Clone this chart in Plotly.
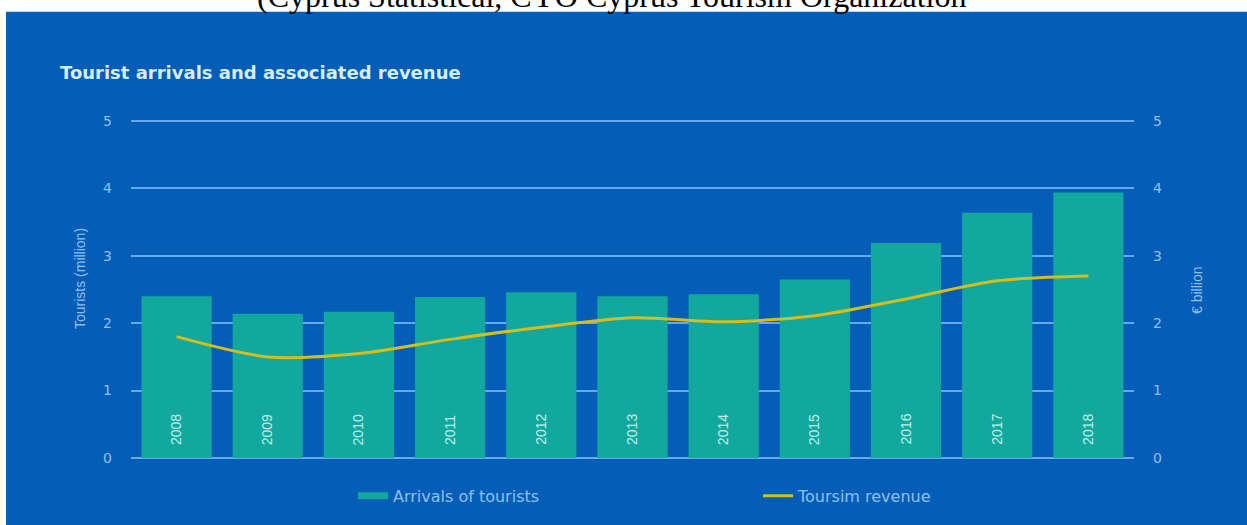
import plotly.graph_objects as go

# ---------------- data ----------------
years = ["2008", "2009", "2010", "2011", "2012", "2013", "2014", "2015", "2016", "2017", "2018"]
arrivals = [2.40, 2.14, 2.17, 2.39, 2.46, 2.40, 2.43, 2.65, 3.19, 3.64, 3.94]   # million tourists
revenue = [1.80, 1.50, 1.55, 1.76, 1.94, 2.08, 2.02, 2.11, 2.36, 2.63, 2.70]    # EUR billion
y_ticks = [0, 1, 2, 3, 4, 5]

title_text = "Tourist arrivals and associated revenue"
source_text = "(Cyprus Statistical, CYO Cyprus Tourism Organization"
bar_name = "Arrivals of tourists"
line_name = "Toursim revenue"
left_title = "Tourists (million)"
right_title = "€ billion"

# ---------------- styling ----------------
W, H = 1247, 525
ML, MR, MT, MB = 131, 113, 119, 63
PW = W - ML - MR
PH = H - MT - MB
Y_RANGE = [-0.03, 5.03]

BLUE = "#045db7"
TEAL = "#12a89e"
GOLD = "#d4bd1c"
GRID = "#6aa8ee"
TICK = "#93bff0"
LIGHT = "#d6ecfa"


def px_x(p):
    return (p - ML) / PW


def px_y(p):
    return (H - MB - p) / PH


fig = go.Figure()

fig.add_trace(go.Bar(
    x=years, y=arrivals, name=bar_name, marker=dict(color=TEAL, line=dict(width=0)),
    showlegend=False, yaxis="y",
))
# legend entry for the bars (wide flat swatch as in the original)
fig.add_trace(go.Scatter(
    x=[None], y=[None], mode="lines", name=bar_name,
    line=dict(color=TEAL, width=7), yaxis="y", hoverinfo="skip",
))
fig.add_trace(go.Scatter(
    x=years, y=revenue, name=line_name, mode="lines",
    line=dict(color=GOLD, width=3, shape="spline", smoothing=0.8), yaxis="y2",
))

annotations = []
for i, yr in enumerate(years):
    annotations.append(dict(
        x=i, y=0, xref="x", yref="y", text=yr, textangle=-90, showarrow=False,
        xanchor="center", yanchor="bottom", yshift=11,
        font=dict(family="Liberation Sans", size=14, color="#c4eee8"),
    ))

annotations += [
    dict(x=px_x(58), y=px_y(72), xref="paper", yref="paper", text="<b>" + title_text + "</b>",
         showarrow=False, xanchor="left", yanchor="middle",
         font=dict(family="DejaVu Sans", size=18, color=LIGHT)),
    dict(x=px_x(611), y=px_y(15.5), xref="paper", yref="paper", text=source_text,
         showarrow=False, xanchor="center", yanchor="bottom",
         font=dict(family="Liberation Serif", size=32, color="#000000")),
    dict(x=px_x(80), y=px_y(280), xref="paper", yref="paper", text=left_title, textangle=-90,
         showarrow=False, xanchor="center", yanchor="middle",
         font=dict(family="Liberation Sans", size=14, color=TICK)),
    dict(x=px_x(1197), y=px_y(292), xref="paper", yref="paper", text=right_title, textangle=-90,
         showarrow=False, xanchor="center", yanchor="middle",
         font=dict(family="Liberation Sans", size=14, color=TICK)),
]

shapes = [
    # white band on top and white strip on the left (page margin of the original)
    dict(type="rect", xref="paper", yref="paper", x0=px_x(-20), x1=px_x(W + 20),
         y0=px_y(11), y1=px_y(-20), fillcolor="white", line=dict(width=0), layer="below"),
    dict(type="rect", xref="paper", yref="paper", x0=px_x(-20), x1=px_x(6),
         y0=px_y(H + 20), y1=px_y(-20), fillcolor="white", line=dict(width=0), layer="below"),
]

axis_font = dict(family="DejaVu Sans", size=14, color=TICK)

fig.update_layout(
    width=W, height=H,
    margin=dict(l=ML, r=MR, t=MT, b=MB, pad=0),
    paper_bgcolor=BLUE, plot_bgcolor=BLUE,
    bargap=0.23,
    showlegend=True,
    legend=dict(
        orientation="h", xref="paper", yref="paper", x=px_x(353), y=px_y(498),
        xanchor="left", yanchor="middle", bgcolor="rgba(0,0,0,0)",
        font=dict(family="DejaVu Sans", size=16, color="#8fc0f0"),
        entrywidth=360, entrywidthmode="pixels", traceorder="normal",
    ),
    xaxis=dict(
        type="category", range=[-0.5, len(years) - 0.5], showgrid=False,
        showticklabels=False, zeroline=False, showline=False, ticks="",
    ),
    yaxis=dict(
        range=Y_RANGE, tickvals=y_ticks, showgrid=True, gridcolor=GRID, gridwidth=2,
        zeroline=False, showline=False, ticks="", tickfont=axis_font,
        ticklabelstandoff=18,
    ),
    yaxis2=dict(
        range=Y_RANGE, tickvals=y_ticks, overlaying="y", side="right", showgrid=False,
        zeroline=False, showline=False, ticks="", tickfont=axis_font,
        ticklabelstandoff=18,
    ),
    annotations=annotations,
    shapes=shapes,
)

fig.write_html(
    "out.html",
    config={"displayModeBar": False},
    post_script="document.body.style.margin='0';document.body.style.overflow='hidden';",
)
